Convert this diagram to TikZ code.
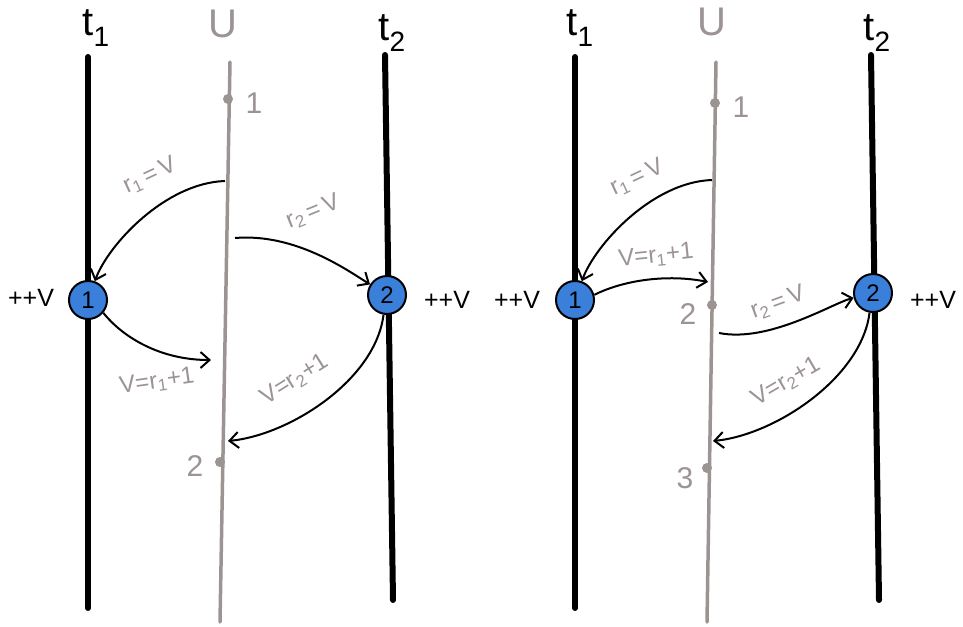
\documentclass[tikz,border=0pt]{standalone}
\usepackage{fontspec}
\setmainfont{Liberation Sans}
\usetikzlibrary{arrows.meta}
\definecolor{ugray}{HTML}{9C9393}
\definecolor{nblue}{HTML}{3A80DA}
\tikzset{
  tline/.style={line width=6pt, line cap=round, black},
  uline/.style={line width=3.5pt, line cap=round, ugray},
  vnode/.style={circle, draw=black, line width=2pt, fill=nblue, minimum size=38pt, inner sep=0pt, font=\fontsize{24}{24}\selectfont},
  udot/.style={circle, fill=ugray, minimum size=10pt, inner sep=0pt},
  msg/.style={line width=2pt, -{Straight Barb[length=9pt,width=16pt,line width=2pt]}},
  glab/.style={text=ugray, font=\fontsize{24}{24}\selectfont, inner sep=1pt},
  numlab/.style={text=ugray, font=\fontsize{30}{30}\selectfont, inner sep=1pt},
  tlab/.style={font=\fontsize{40}{40}\selectfont, inner sep=1pt},
  incl/.style={font=\fontsize{25}{25}\selectfont, inner sep=1pt},
}
\begin{document}
\begin{tikzpicture}[x=1pt,y=-1pt]
\useasboundingbox (0,0) rectangle (963,626);
% ---------------- left panel ----------------
\node[tlab] (Lt1lab) at (96,28) {t\textsubscript{1}};
\node[tlab, text=ugray] (LUlab) at (223,24) {U};
\node[tlab] (Lt2lab) at (392,33) {t\textsubscript{2}};
\coordinate (Lt1top) at (88,57); \coordinate (Lt1bot) at (88,608);
\coordinate (LUtop) at (230,62); \coordinate (LUbot) at (220,622);
\coordinate (Lt2top) at (385,55); \coordinate (Lt2bot) at (393,600);
\draw[tline] (Lt1top) -- (Lt1bot);
\draw[tline] (Lt2top) -- (Lt2bot);
\draw[uline] (LUtop) -- (LUbot);
\node[vnode] (Ln1) at (88,300) {1};
\node[vnode] (Ln2) at (387,295) {2};
\node[incl] (Lpp1) at (31,298) {++V};
\node[incl] (Lpp2) at (447,300) {++V};
\node[udot] (Ld1) at (228,99) {};
\node[numlab] (Ld1lab) at (254,103) {1};
\node[udot] (Ld2) at (220,462) {};
\node[numlab] (Ld2lab) at (195,466) {2};
\coordinate (La) at (225,181);
\coordinate (Lb) at (235,238);
\coordinate (Lc) at (211,360);
\coordinate (Ld) at (228,441);
\draw[msg] (La) .. controls +(-60,2) and +(20,-55) .. (Ln1);
\draw[msg] (Lb) .. controls +(60,-5) and +(-40,-25) .. (Ln2);
\draw[msg] (Ln1.-40) .. controls +(20,25) and +(-50,0) .. (Lc);
\draw[msg] (Ln2.-100) .. controls +(-8,65) and +(62,-6) .. (Ld);
\node[glab, rotate=25] (Llab1) at (150,176) {r\textsubscript{1}\,=\,V};
\node[glab, rotate=22] (Llab2) at (313,212) {r\textsubscript{2}\,=\,V};
\node[glab, rotate=8] (Llab3) at (157,382) {V=r\textsubscript{1}+1};
\node[glab, rotate=32] (Llab4) at (295,380) {V=r\textsubscript{2}+1};
% ---------------- right panel ----------------
\node[tlab] (Rt1lab) at (580,28) {t\textsubscript{1}};
\node[tlab, text=ugray] (RUlab) at (712,22) {U};
\node[tlab] (Rt2lab) at (877,33) {t\textsubscript{2}};
\coordinate (Rt1top) at (575,57); \coordinate (Rt1bot) at (575,608);
\coordinate (RUtop) at (716,62); \coordinate (RUbot) at (707,622);
\coordinate (Rt2top) at (871,55); \coordinate (Rt2bot) at (879,600);
\draw[tline] (Rt1top) -- (Rt1bot);
\draw[tline] (Rt2top) -- (Rt2bot);
\draw[uline] (RUtop) -- (RUbot);
\node[vnode] (Rn1) at (575,300) {1};
\node[vnode] (Rn2) at (873,293) {2};
\node[incl] (Rpp1) at (517,300) {++V};
\node[incl] (Rpp2) at (933,300) {++V};
\node[udot] (Rd1) at (715,103) {};
\node[numlab] (Rd1lab) at (741,107) {1};
\node[udot] (Rd2) at (712,305) {};
\node[numlab] (Rd2lab) at (688,314) {2};
\node[udot] (Rd3) at (707,468) {};
\node[numlab] (Rd3lab) at (685,478) {3};
\coordinate (Ra) at (712,180);
\coordinate (Rb) at (708,282);
\coordinate (Rc) at (719,333);
\coordinate (Rd) at (713,441);
\draw[msg] (Ra) .. controls +(-60,2) and +(20,-55) .. (Rn1);
\draw[msg] (Rn1.15) .. controls +(30,-15) and +(-40,-8) .. (Rb);
\draw[msg] (Rc) .. controls +(50,10) and +(-40,10) .. (Rn2);
\draw[msg] (Rn2.-100) .. controls +(-8,65) and +(62,-6) .. (Rd);
\node[glab, rotate=25] (Rlab1) at (637,178) {r\textsubscript{1}\,=\,V};
\node[glab, rotate=6] (Rlab2) at (656,256) {V=r\textsubscript{1}+1};
\node[glab, rotate=20] (Rlab3) at (778,303) {r\textsubscript{2}\,=\,V};
\node[glab, rotate=30] (Rlab4) at (786,382) {V=r\textsubscript{2}+1};
\end{tikzpicture}
\end{document}
